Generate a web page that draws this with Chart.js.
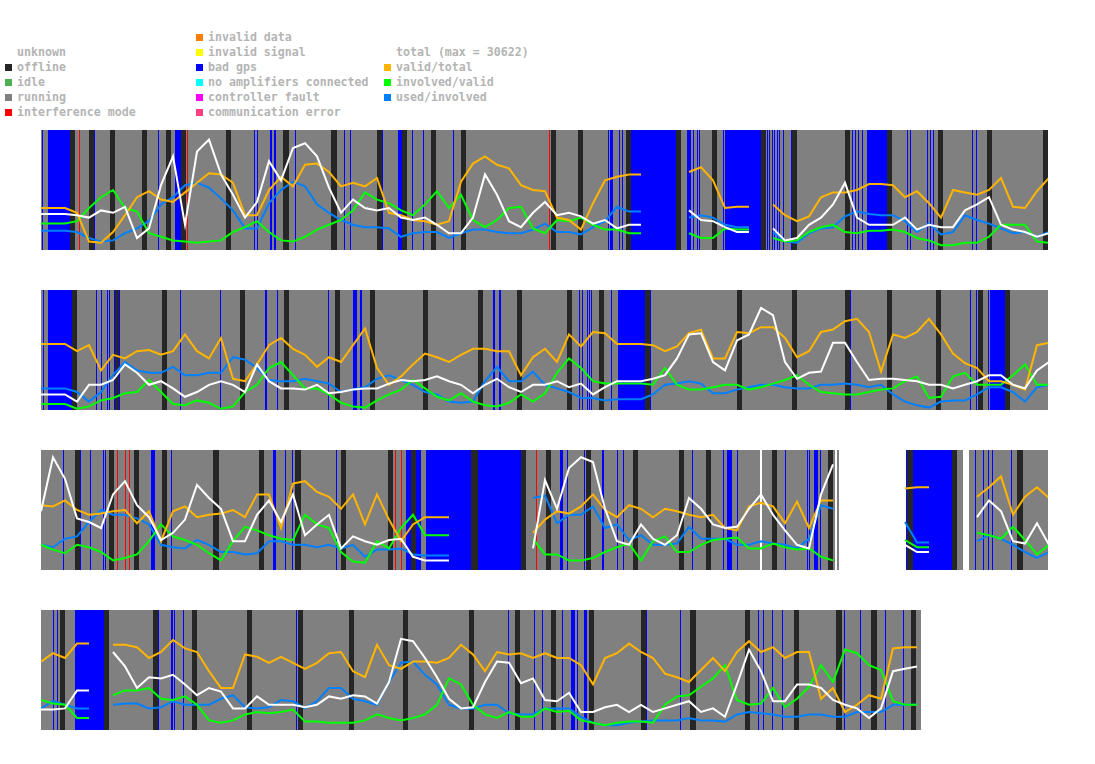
<!DOCTYPE html>
<html>
<head>
<meta charset="utf-8">
<script src="https://cdn.jsdelivr.net/npm/chart.js@4.4.1/dist/chart.umd.min.js"></script>
<style>
	body { margin: 0; background: #fff; width: 1095px; height: 764px; position: relative; overflow: hidden; font: bold 11.6px "DejaVu Sans Mono", monospace; color: #b4b4b4; }
	.lg { position: absolute; white-space: pre; line-height: 15px; }
	.sw { position: absolute; width: 7px; height: 7px; }
	canvas { position: absolute; left: 41px; }
</style>
</head>
<body>
<div id="legend"></div>
<canvas id="strip1" width="1007" height="120" style="top:130px"></canvas>
<canvas id="strip2" width="1007" height="120" style="top:290px"></canvas>
<canvas id="strip3" width="1007" height="120" style="top:450px"></canvas>
<canvas id="strip4" width="1007" height="120" style="top:610px"></canvas>
<script>
// x unit: 10-minute bin within the week (0..1007), samples every 12 bins
var STEP = 12;

// legend columns
var statusLabels = ["unknown", "offline", "idle", "running", "interference mode"];
var statusColors = [null, "#262626", "#4caf50", "#808080", "#ff0000"];
var errorLabels = ["invalid data", "invalid signal", "bad gps", "no amplifiers connected", "controller fault", "communication error"];
var errorColors = ["#ff8000", "#ffff00", "#0000ff", "#00ffff", "#ff00ff", "#ff4080"];
var seriesLabels = ["total (max = 30622)", "valid/total", "involved/valid", "used/involved"];
var seriesColors = ["#ffffff", "#ffb400", "#00ff00", "#0080ff"];

// week 1
var s1Total = [30,30,30,29,27,33,31,36,10,18, 54,78,21,82,92,63,46,27,40,74, 58,85,89,78,52,31,42,35,33,35, 27,25,27,21,14,14,27,63,46,24, 19,31,40,29,31,28,22,25,18,21, 21,null,null,null,33,25,24,19,15,15, null,18,8,10,21,27,38,56,27,21, 21,21,27,17,21,19,19,33,38,44, 21,17,15,11,14];
var s1Valid = [35,35,35,31,7,6,15,29,44,49, 42,40,48,56,64,63,56,29,29,50, 61,53,71,72,65,53,56,53,60,31, 29,25,24,21,24,57,72,78,71,68, 54,50,49,27,25,17,39,58,61,63, 63,null,null,null,65,69,58,35,36,36, null,38,29,24,28,44,48,48,50,55, 55,54,44,49,39,27,50,48,46,50, 60,36,35,49,60];
var s1Involved = [22,22,22,24,35,44,50,35,32,14, 11,8,7,6,7,8,15,19,24,15, 8,7,11,17,21,25,33,48,42,39, 33,29,38,49,35,46,25,19,25,35, 36,18,14,25,24,27,21,17,17,14, 14,null,null,null,14,10,10,18,17,17, null,10,7,8,15,19,21,15,14,16, 16,17,15,10,8,4,4,6,6,11, 21,21,21,7,6];
var s1Used = [16,16,16,15,10,7,8,14,18,24, 38,44,54,56,52,43,33,18,18,39, 50,57,53,38,31,25,21,19,19,18, 11,14,15,15,10,14,17,17,15,14, 14,17,22,15,15,13,19,24,36,32, 32,null,null,null,27,29,27,21,19,19, null,15,7,6,14,18,19,28,32,30, 29,29,24,15,22,13,15,29,25,22, 18,14,15,11,15];
var s1Covered = [[0, 1007]];
var s1Offline = [[29,34],[48,53],[69,74],[101,106],[125,130],[140,145],[185,190],[242,248],[290,296],[336,341],[361,366],[390,395],[420,425],[510,515],[537,542],[585,590],[635,640],[671,676],[720,725],[751,756],[804,809],[846,851],[897,902],[946,951],[1002,1007]];
var s1BadGps = [[1,2],[7,29],[53,54],[117,118],[134,140],[213,214],[216,217],[229,231],[233,235],[254,255],[303,304],[309,310],[341,342],[357,361],[371,372],[382,383],[412,413],[567,568],[569,572],[578,579],[581,582],[590,635],[646,647],[647,650],[652,653],[656,657],[658,659],[682,683],[684,720],[726,727],[728,729],[731,732],[733,734],[736,737],[738,739],[742,743],[750,751],[811,812],[814,815],[817,818],[821,822],[826,846],[866,867],[869,870],[886,887],[889,890],[892,893],[931,932],[935,936]];
var s1Interference = [[38,39],[146,147],[508,509]];

// week 2
var s2Total = [13,13,13,7,21,21,25,38,31,21, 24,18,11,15,21,24,21,15,38,24, 18,18,17,21,14,15,17,18,18,22, 25,24,25,28,24,21,14,21,26,19, 15,21,21,24,19,22,13,19,24,24, 24,26,29,43,63,64,40,33,58,63, 85,79,40,26,31,32,56,56,40,25, 26,26,25,24,21,21,18,21,24,29, 29,21,18,33,40];
var s2Valid = [55,55,55,49,54,33,46,43,49,50, 46,49,63,49,43,60,26,24,38,54, 60,51,46,36,44,40,54,68,35,21, 28,38,47,44,40,46,51,51,49,49, 29,44,51,40,63,53,65,64,55,55, 55,54,49,53,64,67,43,43,65,64, 69,69,60,44,49,65,67,74,76,65, 32,63,60,65,76,63,47,39,35,24, 24,21,17,54,56];
var s2Involved = [5,5,5,1,3,8,10,14,15,25, 15,5,4,8,6,1,3,15,21,35, 40,29,18,18,13,6,3,2,8,13, 17,25,18,11,8,14,7,4,3,6, 13,7,14,31,43,35,24,22,22,22, 22,21,35,21,17,17,19,21,21,17, 19,22,25,29,21,15,14,13,13,15, 17,18,24,28,10,11,28,31,21,21, 21,29,38,21,21];
var s2Used = [18,18,18,15,7,15,29,40,33,31, 31,36,29,29,31,31,44,42,35,25, 24,24,26,24,22,15,17,19,26,29, 25,21,15,13,7,6,7,24,36,24, 24,32,21,18,15,10,10,8,9,9, 9,13,21,22,24,22,14,14,17,19, 21,21,19,18,18,21,21,22,21,19, 21,13,7,4,2,7,8,8,13,19, 19,15,7,19,21];
var s2Covered = [[0, 1007]];
var s2Offline = [[31,36],[74,79],[121,126],[199,204],[243,248],[294,299],[329,334],[382,387],[437,442],[476,481],[526,531],[558,563],[604,609],[696,701],[751,756],[804,809],[846,851],[895,900],[937,942],[964,969]];
var s2BadGps = [[2,3],[7,31],[55,56],[60,61],[66,67],[68,69],[73,74],[78,79],[139,140],[179,180],[224,226],[236,237],[287,288],[312,316],[319,321],[452,454],[458,460],[538,539],[541,542],[546,547],[548,549],[550,551],[570,571],[577,604],[609,610],[809,810],[929,930],[935,936],[947,948],[949,964]];
var s2Interference = [];

// week 3
var s3Total = [49,94,76,43,40,35,63,74,54,44, 25,31,42,71,60,51,24,24,46,58, 40,63,29,38,46,18,28,24,21,25, 26,11,8,8,8,null,null,null,null,null, null,18,75,51,85,94,90,51,24,21, 38,26,21,29,60,51,38,35,36,51, 63,46,33,21,18,63,88,null,null,null, null,null,21,15,15,null,null,null,44,58, 49,24,22,39,21];
var s3Valid = [54,53,58,50,46,47,49,50,39,49, 24,49,53,44,46,47,50,44,63,63, 35,72,74,65,61,51,63,38,63,42, 24,38,44,44,44,null,null,null,null,null, null,31,42,49,47,53,63,50,44,54, 51,44,51,49,46,44,46,35,33,53, 56,53,39,57,35,58,58,null,null,null, null,null,68,69,69,null,null,null,61,69, 78,46,61,69,60];
var s3Involved = [21,17,14,21,19,15,8,10,13,24, 38,28,25,21,14,8,24,36,33,29, 26,25,46,38,35,15,7,6,24,18, 35,46,29,29,29,null,null,null,null,null, null,26,13,13,8,8,10,15,19,22, 8,24,28,15,15,21,25,26,27,18, 18,22,19,17,18,11,8,null,null,null, null,null,25,19,19,null,null,null,31,29, 26,36,25,13,21];
var s3Used = [21,19,26,28,40,50,46,46,43,38, 21,19,18,25,21,15,15,13,14,24, 24,21,21,19,21,18,21,11,17,17, 18,13,12,12,12,null,null,null,null,null, null,60,62,39,46,46,53,35,38,25, 29,21,21,22,36,26,26,26,21,21, 24,22,21,18,26,54,51,null,null,null, null,null,40,23,23,null,null,null,24,29, 26,21,15,10,15];
var s3Covered = [[0,719],[721,794],[796,798],[865,922],[928,1007]];
var s3Offline = [[34,39],[68,73],[93,98],[121,126],[172,178],[218,223],[254,260],[300,305],[347,352],[370,375],[430,437],[480,485],[505,510],[545,550],[592,597],[638,643],[665,670],[731,736],[787,792],[866,872],[911,916],[976,982]];
var s3BadGps = [[22,23],[39,40],[49,50],[62,63],[64,65],[110,114],[130,131],[232,235],[244,245],[251,252],[295,296],[365,370],[375,380],[385,430],[437,480],[519,522],[526,527],[543,544],[561,563],[576,577],[582,583],[651,652],[682,683],[686,691],[696,697],[744,745],[766,767],[768,769],[773,777],[779,780],[865,866],[872,911],[934,935],[942,943],[947,948],[951,952],[970,971]];
var s3Interference = [[76,77],[84,85],[88,89],[354,355],[360,361],[495,496]];

// week 4 (data ends at bin 880)
var s4Total = [17,17,18,33,33,null,65,53,35,44, 43,46,38,29,35,32,18,18,28,21, 21,21,19,21,28,26,29,28,22,40, 76,74,60,44,26,18,19,40,57,56, 39,43,25,24,31,15,15,19,21,15, 21,15,18,21,24,15,18,11,38,67, 49,24,24,38,38,35,25,21,18,10, 18,49,51,53];
var s4Valid = [57,64,60,72,72,null,71,71,69,60, 65,75,68,65,49,35,35,63,61,56, 61,56,51,56,64,65,49,44,71,54, 51,57,57,56,60,71,63,49,65,63, 64,60,64,60,60,54,38,60,64,72, 65,60,47,44,40,50,60,49,65,74, 65,69,60,65,65,26,35,15,21,29, 26,68,69,69];
var s4Involved = [25,22,21,10,10,null,29,33,33,35, 26,25,28,21,8,6,8,13,15,14, 15,17,7,7,6,6,6,8,13,10, 8,10,13,21,43,38,21,13,10,15, 11,11,18,15,16,8,6,4,6,7, 7,6,21,28,29,36,43,54,25,21, 22,35,19,26,36,54,40,67,64,54, 50,24,21,21];
var s4Used = [18,24,21,18,18,null,21,22,22,18, 19,24,21,21,21,26,29,19,18,19, 25,24,18,24,35,35,26,24,21,40, 56,57,46,38,21,18,18,21,21,14, 13,13,18,18,18,11,6,4,4,6, 7,8,8,8,10,8,8,7,13,15, 14,13,11,11,13,13,11,11,15,15, 15,21,21,21];
var s4Covered = [[0, 880]];
var s4Offline = [[19,24],[63,68],[112,117],[151,156],[206,211],[257,262],[308,313],[362,367],[428,433],[474,479],[510,515],[548,553],[600,605],[649,655],[704,709],[753,758],[795,801],[830,836],[870,875]];
var s4BadGps = [[12,13],[16,17],[34,63],[117,118],[130,132],[133,134],[142,143],[255,256],[467,468],[493,494],[501,502],[521,522],[530,534],[536,537],[543,546],[605,606],[639,640],[717,718],[722,723],[731,732],[741,742],[803,804],[819,820],[844,845],[862,863]];
var s4Interference = [];

// legend
var legend = $("legend");
function $(id) { return document.getElementById(id); }
function addEntry(text, color, x, row) {
	var y = 30 + row * 15;
	var d = document.createElement("div");
	d.className = "lg";
	d.style.left = x + "px";
	d.style.top = y + "px";
	d.textContent = text;
	legend.appendChild(d);
	if (color) {
		var s = document.createElement("div");
		s.className = "sw";
		s.style.left = (x - 12) + "px";
		s.style.top = (y + 4) + "px";
		s.style.background = color;
		legend.appendChild(s);
	}
}
legend = document.getElementById("legend");
statusLabels.forEach((t, i) => addEntry(t, statusColors[i], 17, i + 1));
errorLabels.forEach((t, i) => addEntry(t, errorColors[i], 208, i));
seriesLabels.forEach((t, i) => addEntry(t, i === 0 ? null : seriesColors[i], 396, i + 1));

// background status bands, drawn through the x scale
var statusBands = {
	id: "statusBands",
	beforeDatasetsDraw(chart, args, opts) {
		var ctx = chart.ctx;
		var area = chart.chartArea;
		var x = chart.scales.x;
		var paint = (list, color) => {
			ctx.fillStyle = color;
			list.forEach((seg) => {
				var x0 = Math.round(x.getPixelForValue(seg[0]));
				var x1 = Math.round(x.getPixelForValue(seg[1]));
				ctx.fillRect(x0, area.top, Math.max(1, x1 - x0), area.bottom - area.top);
			});
		};
		ctx.save();
		paint(opts.covered, "#808080");
		paint(opts.offline, "#262626");
		paint(opts.badGps, "#0000ff");
		paint(opts.interference, "#ff0000");
		ctx.restore();
	},
};

function toPoints(arr) {
	return arr.map((v, i) => ({ x: i * STEP, y: v }));
}

function makeStrip(id, series, covered, offline, badGps, interference) {
	return new Chart(document.getElementById(id), {
		type: "line",
		data: {
			datasets: series.map((arr, i) => ({
				label: seriesLabels[i],
				data: toPoints(arr),
				borderColor: seriesColors[i],
				borderWidth: 2,
				pointRadius: 0,
				tension: 0,
				spanGaps: false,
			})),
		},
		options: {
			responsive: false,
			animation: false,
			events: [],
			layout: { padding: 0 },
			plugins: {
				legend: { display: false },
				tooltip: { enabled: false },
				statusBands: { covered: covered, offline: offline, badGps: badGps, interference: interference },
			},
			scales: {
				x: { type: "linear", min: 0, max: 1007, display: false },
				y: { min: 0, max: 100, display: false },
			},
		},
		plugins: [statusBands],
	});
}

makeStrip("strip1", [s1Total, s1Valid, s1Involved, s1Used], s1Covered, s1Offline, s1BadGps, s1Interference);
makeStrip("strip2", [s2Total, s2Valid, s2Involved, s2Used], s2Covered, s2Offline, s2BadGps, s2Interference);
makeStrip("strip3", [s3Total, s3Valid, s3Involved, s3Used], s3Covered, s3Offline, s3BadGps, s3Interference);
makeStrip("strip4", [s4Total, s4Valid, s4Involved, s4Used], s4Covered, s4Offline, s4BadGps, s4Interference);
</script>
</body>
</html>
